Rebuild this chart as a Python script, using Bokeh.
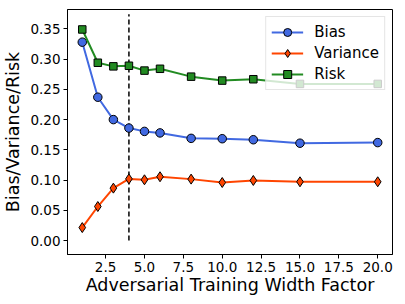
from bokeh.plotting import figure
from bokeh.models import Range1d, Legend
from bokeh.embed import file_html
from bokeh.resources import INLINE

width_factor = [1, 2, 3, 4, 5, 6, 8, 10, 12, 15, 20]
bias = [0.328, 0.237, 0.200, 0.186, 0.1805, 0.178, 0.169, 0.1684, 0.1667, 0.161, 0.162]
variance = [0.0215, 0.0563, 0.0867, 0.102, 0.1005, 0.1055, 0.1016, 0.096, 0.0994, 0.0972, 0.0972]
risk = [0.349, 0.294, 0.288, 0.289, 0.281, 0.284, 0.271, 0.2645, 0.2667, 0.259, 0.259]
vline_x = [4, 4]
vline_y = [0.0, 0.374]
x_ticks = [2.5, 5.0, 7.5, 10.0, 12.5, 15.0, 17.5, 20.0]
y_ticks = [0.0, 0.05, 0.10, 0.15, 0.20, 0.25, 0.30, 0.35]

FONT = "DejaVu Sans"

p = figure(frame_width=325, frame_height=245, output_backend="svg", toolbar_location=None,
           x_range=Range1d(0.05, 20.95), y_range=Range1d(-0.023, 0.382),
           min_border_left=60, min_border_right=4, min_border_top=9, min_border_bottom=42)
p.background_fill_color = "white"
p.border_fill_color = "white"
p.outline_line_color = "black"
p.outline_line_width = 1
p.grid.visible = False

p.line(vline_x, vline_y, line_color="black", line_dash="5 3", line_width=1.5)

lb = p.line(width_factor, bias, line_color="#4169E1", line_width=2)
sb = p.scatter(width_factor, bias, marker="circle", size=8.5, fill_color="#4169E1",
               line_color="black", line_width=1)
lv = p.line(width_factor, variance, line_color="#FF4500", line_width=2)
sv = p.scatter(width_factor, variance, marker="diamond", size=10, fill_color="#FF4500",
               line_color="black", line_width=1)
lr = p.line(width_factor, risk, line_color="#228B22", line_width=2)
sr = p.scatter(width_factor, risk, marker="square", size=7.5, fill_color="#228B22",
               line_color="black", line_width=1)

legend = Legend(items=[("Bias", [lb, sb]), ("Variance", [lv, sv]), ("Risk", [lr, sr])],
                location="top_right")
legend.label_text_font = FONT
legend.label_text_font_size = "15px"
legend.label_text_color = "black"
legend.background_fill_alpha = 0.8
legend.border_line_color = "#cccccc"
legend.border_line_width = 1
legend.margin = 7
legend.padding = 5
legend.spacing = 1
legend.label_height = 20
legend.glyph_height = 20
legend.glyph_width = 32
legend.label_standoff = 11
p.add_layout(legend)

p.xaxis.ticker = x_ticks
p.xaxis.major_label_overrides = {t: f"{t:.1f}" for t in x_ticks}
p.yaxis.ticker = y_ticks
p.yaxis.major_label_overrides = {t: f"{t:.2f}" for t in y_ticks}
p.xaxis.axis_label = "Adversarial Training Width Factor"
p.yaxis.axis_label = "Bias/Variance/Risk"
for ax in (p.xaxis, p.yaxis):
    ax.axis_label_text_font = FONT
    ax.axis_label_text_font_style = "normal"
    ax.axis_label_text_font_size = "17.5px"
    ax.major_label_text_font = FONT
    ax.major_label_text_font_size = "13.5px"
    ax.major_label_text_color = "black"
    ax.axis_label_text_color = "black"
    ax.minor_tick_line_color = None
    ax.major_tick_in = 0
    ax.major_tick_out = 4
    ax.axis_line_color = "black"
    ax.major_label_standoff = 3
p.xaxis.axis_label_standoff = 0
p.yaxis.axis_label_standoff = 4

open("out.html", "w").write(file_html(p, INLINE))
